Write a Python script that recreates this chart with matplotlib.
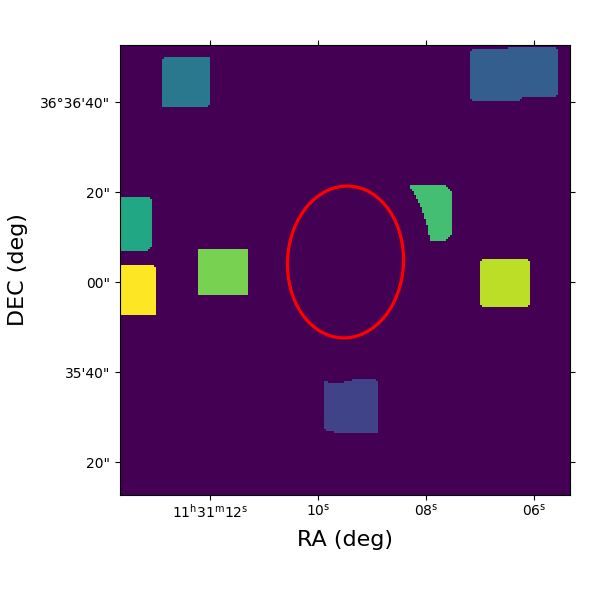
import matplotlib
matplotlib.use("Agg")
import matplotlib.pyplot as plt
import numpy as np
from matplotlib.path import Path
from matplotlib.patches import Ellipse

x_lim = [120, 570]
y_lim = [495, 45]
cell = 2

x_ticks = [210, 318, 426, 534]
x_labels = [r"$11^{\mathrm{h}}31^{\mathrm{m}}12^{\mathrm{s}}$", r"$10^{\mathrm{s}}$",
            r"$08^{\mathrm{s}}$", r"$06^{\mathrm{s}}$"]
y_ticks = [102, 192, 282, 372, 462]
y_labels = ["36°36'40\"", "20\"", "00\"", "35'40\"", "20\""]

region_values = [0.2, 0.3, 0.3, 0.4, 0.6, 0.7, 0.8, 0.9, 1.0]

bottom_block = [(323.3, 382.5), (327, 381), (328, 382.7), (344, 382.7), (345, 381), (353, 380), (353, 379),
                (374, 379), (378.7, 383), (378.7, 433.7), (334, 433.7), (334, 432), (328, 431.7), (323.3, 428)]
blue_left = [(472, 49.5), (474, 49), (523, 49), (523.3, 97), (519, 101.7), (474, 101.7), (470.3, 98), (470.3, 51)]
blue_right = [(511, 47), (555, 47), (557.7, 49), (557.7, 94), (555, 96), (509, 96), (509, 48)]
teal_block = [(163, 60), (166, 57), (210, 57), (210, 103), (207, 106), (163, 106)]
left_block = [(120, 197.7), (149, 197.7), (152.7, 201), (152.7, 246), (148, 250.3), (120, 250.3)]
wedge = [(409, 185.7), (445.7, 185.7), (451.7, 191.7), (451.7, 233.3), (445.7, 240.3), (429.7, 240.3),
         (427.3, 225), (421.7, 208.3), (415, 195)]
lime_block = [(197.3, 251), (200, 248.3), (248.3, 248.3), (248.3, 295.3), (197.3, 295.3)]
olive_block = [(480.3, 261), (483, 258.3), (527, 258.3), (529.7, 261), (529.7, 305), (526, 307.7),
               (484, 307.7), (480.3, 305)]
yellow_block = [(120, 264.7), (153, 264.7), (156.7, 268), (156.7, 313), (153, 315.7), (120, 315.7)]
regions = [bottom_block, blue_left, blue_right, teal_block, left_block, wedge, lime_block, olive_block, yellow_block]

ellipse_centre = (345.5, 262)
ellipse_width = 116
ellipse_height = 152
ellipse_angle = 3

# fill the regions on a coarse grid so the edges stay blocky like the original map
xs = np.arange(x_lim[0] + cell / 2, x_lim[1], cell)
ys = np.arange(y_lim[1] + cell / 2, y_lim[0], cell)
xx, yy = np.meshgrid(xs, ys)
points = np.column_stack([xx.ravel(), yy.ravel()])
image = np.zeros(xx.shape)
for outline, value in zip(regions, region_values):
    inside = Path(outline).contains_points(points).reshape(xx.shape)
    image[inside] = value

fig = plt.figure(figsize=(6, 6), dpi=100)
ax = fig.add_axes([0.2, 0.175, 0.75, 0.75])
ax.imshow(image, cmap="viridis", vmin=0, vmax=1, origin="upper", aspect="auto",
          extent=(x_lim[0], x_lim[1], y_lim[0], y_lim[1]))
ax.add_patch(Ellipse(ellipse_centre, ellipse_width, ellipse_height, angle=ellipse_angle,
                     fill=False, edgecolor="red", linewidth=2.3))

ax.set_xticks(x_ticks)
ax.set_xticklabels(x_labels)
ax.set_yticks(y_ticks)
ax.set_yticklabels(y_labels)
ax.tick_params(top=True, right=True, labelsize=10)
ax.tick_params(axis="x", pad=2)
ax.set_xlabel("RA (deg)", fontsize=16, labelpad=7)
ax.set_ylabel("DEC (deg)", fontsize=16, labelpad=9)

fig.savefig("out.png", dpi=100)
